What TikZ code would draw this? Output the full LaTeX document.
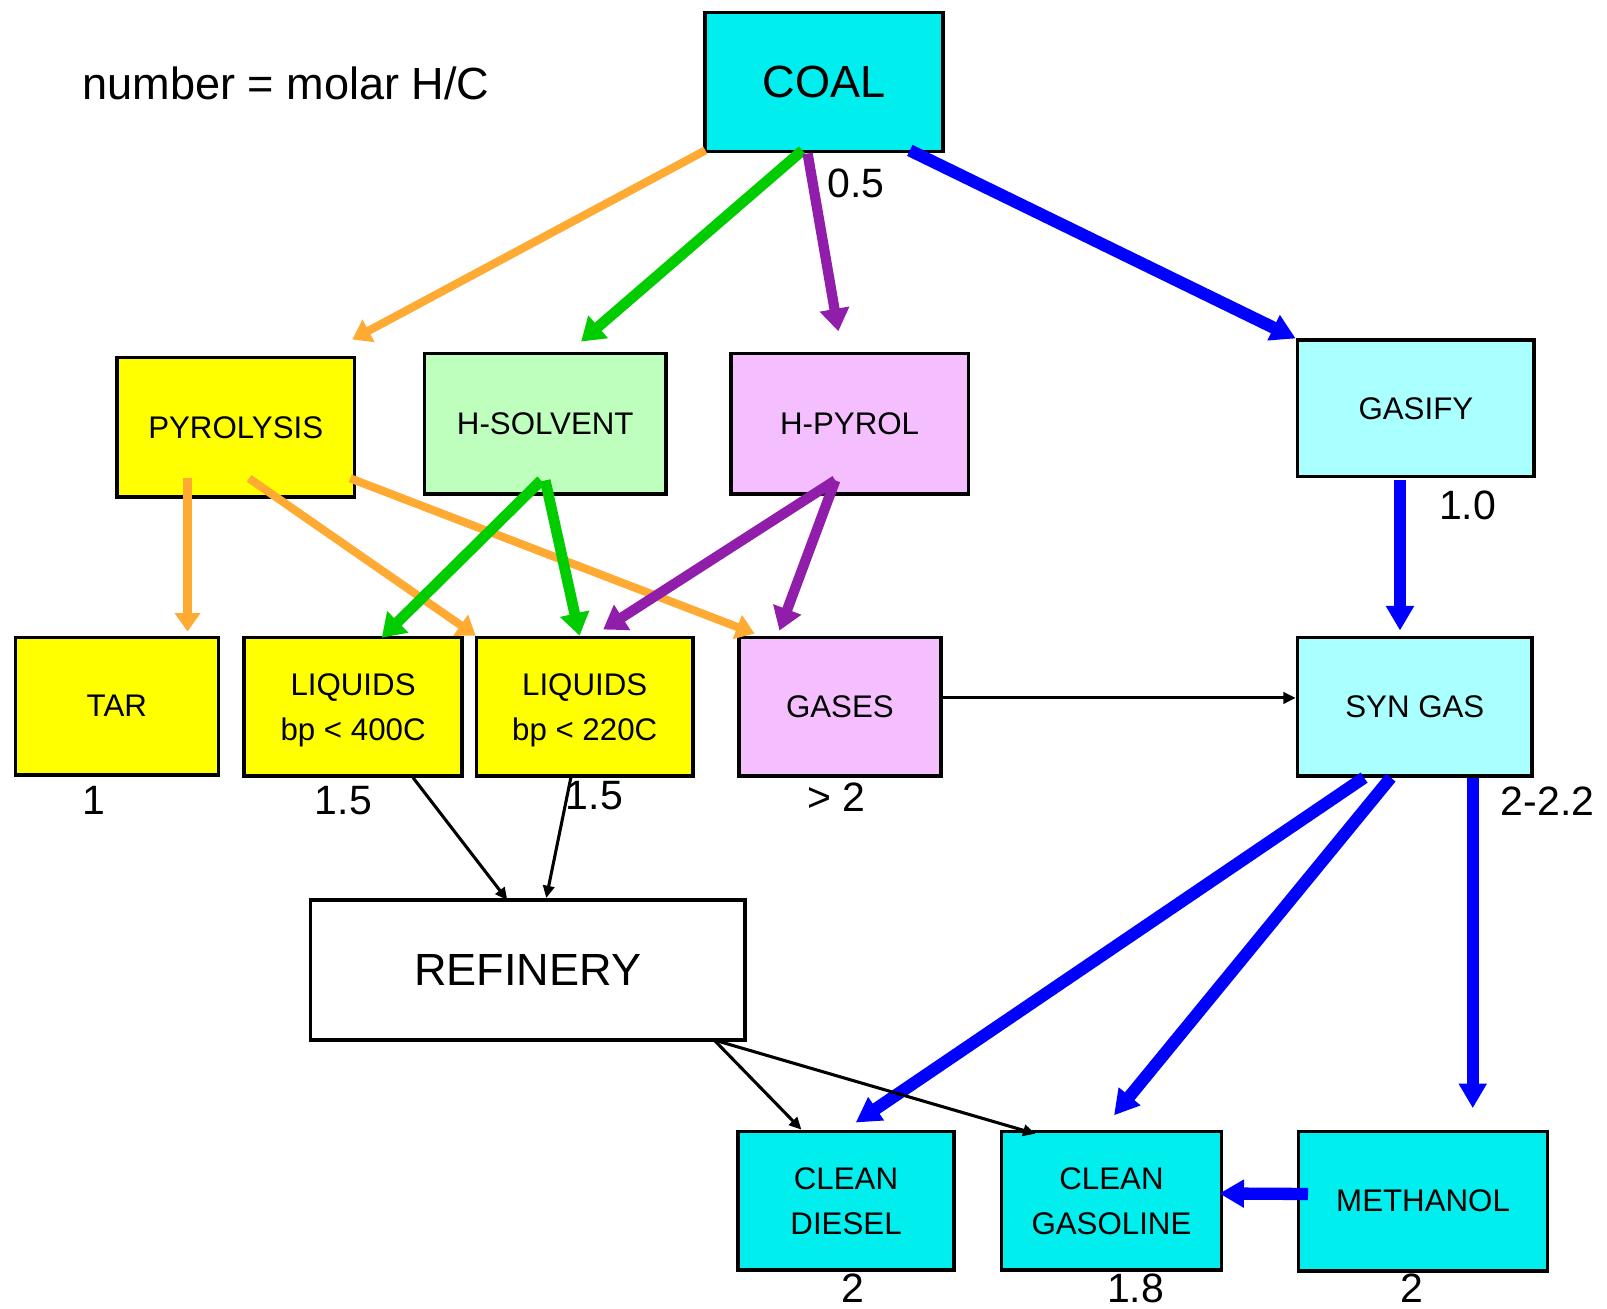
\documentclass[tikz,border=0pt]{standalone}
\usepackage{fontspec}
\setmainfont{Liberation Sans}
\usetikzlibrary{calc,arrows.meta}

\definecolor{coalcyan}{RGB}{0,238,238}
\definecolor{gascyan}{RGB}{170,255,255}
\definecolor{taryellow}{RGB}{255,255,0}
\definecolor{solvgreen}{RGB}{190,255,190}
\definecolor{pyrpink}{RGB}{245,190,255}
\definecolor{pyroorange}{RGB}{255,170,51}
\definecolor{solvline}{RGB}{0,204,0}
\definecolor{pyrline}{RGB}{145,30,170}
\definecolor{gasline}{RGB}{0,0,255}

\tikzset{
  box/.style={draw=black, line width=3.5pt, rectangle, inner sep=0pt, align=center,
    font=\fontsize{30.5}{44}\selectfont},
  twoline/.style={box, text depth=0pt},
  bigbox/.style={box, font=\fontsize{44}{48}\selectfont},
  hc/.style={font=\fontsize{40}{44}\selectfont, inner sep=0pt},
  orangearrow/.style={draw=pyroorange, line width=8pt, -{Triangle[length=18pt,width=24pt]}},
  greenarrow/.style={draw=solvline, line width=10.5pt, -{Triangle[length=22pt,width=28pt]}},
  purplearrow/.style={draw=pyrline, line width=10pt, -{Triangle[length=22pt,width=28pt]}},
  bluearrow/.style={draw=gasline, line width=12pt, -{Triangle[length=24pt,width=26pt]}},
  blackarrow/.style={draw=black, line width=3pt, -{Triangle[length=12pt,width=11pt]}}
}

\begin{document}
\begin{tikzpicture}[x=1pt, y=-1pt]
  \useasboundingbox (0,0) rectangle (1568,1277);

  %%%%% BOXES %%%%%
  \node[bigbox, fill=coalcyan, minimum width=232, minimum height=136] (coal) at (804,80) {COAL};

  \node[box, fill=taryellow, minimum width=232, minimum height=136] (pyro) at (230,417) {PYROLYSIS};
  \node[box, fill=solvgreen, minimum width=236, minimum height=137] (hsolv) at (532,413.5) {H-SOLVENT};
  \node[box, fill=pyrpink, minimum width=232, minimum height=137] (hpyrol) at (829,413.5) {H-PYROL};
  \node[box, fill=gascyan, minimum width=231, minimum height=133] (gasify) at (1381.5,398.5) {GASIFY};

  \node[box, fill=taryellow, minimum width=198, minimum height=134] (tar) at (114,689) {TAR};
  \node[twoline, fill=taryellow, minimum width=213, minimum height=135] (liqhigh) at (344.5,689.5) {LIQUIDS\\bp < 400C};
  \node[twoline, fill=taryellow, minimum width=211, minimum height=135] (liqlow) at (570.5,689.5) {LIQUIDS\\bp < 220C};
  \node[box, fill=pyrpink, minimum width=197, minimum height=135] (gases) at (819.5,689.5) {GASES};
  \node[box, fill=gascyan, minimum width=229, minimum height=135] (syngas) at (1380.5,689.5) {SYN GAS};

  \node[bigbox, fill=white, minimum width=424, minimum height=137] (refinery) at (515,946.5) {REFINERY};

  \node[twoline, fill=coalcyan, minimum width=211, minimum height=135] (diesel) at (825.5,1171.5) {CLEAN\\DIESEL};
  \node[twoline, fill=coalcyan, minimum width=215, minimum height=135] (gasoline) at (1084.5,1171.5) {CLEAN\\GASOLINE};
  \node[box, fill=coalcyan, minimum width=243, minimum height=136] (methanol) at (1388.5,1172) {METHANOL};

  %%%%% H/C VALUES %%%%%
  \node[font=\fontsize{44}{48}\selectfont, inner sep=0pt] (legend) at (279,81) {number = molar H/C};
  \node[hc] (hccoal) at (835,179) {0.5};
  \node[hc] (hcgasify) at (1432,493) {1.0};
  \node[hc] (hctar) at (92,781) {1};
  \node[hc] (hcliqhigh) at (335,781) {1.5};
  \node[hc] (hcliqlow) at (580,776) {1.5};
  \node[hc] (hcgases) at (816,778) {> 2};
  \node[hc] (hcsyngas) at (1510,782) {2-2.2};
  \node[hc] (hcdiesel) at (832,1257) {2};
  \node[hc] (hcgasoline) at (1108,1257) {1.8};
  \node[hc] (hcmethanol) at (1378,1257) {2};

  %%%%% GASIFICATION ROUTE %%%%%
  \draw[bluearrow] ($(coal.south east)+(-34,-3)$) -- (gasify.north west);
  \draw[bluearrow] ($(gasify.south)+(-15.5,2)$) -- ($(syngas.north)+(-14.5,-5)$);
  \draw[bluearrow] ($(syngas.south)+(-49.5,0)$) -- ($(diesel.north)+(9.5,-7)$);
  \draw[bluearrow] ($(syngas.south)+(-23.5,0)$) -- ($(gasoline.north)+(2.5,-14)$);
  \draw[bluearrow] ($(syngas.south)+(56.5,0)$) -- ($(methanol.north)+(48.5,-21)$);
  \draw[bluearrow] ($(methanol.west)+(11,-7)$) -- ($(gasoline.east)+(-4,-7)$);

  %%%%% PYROLYSIS ROUTE %%%%%
  \draw[orangearrow] ($(coal.south west)+(2,-3)$) -- ($(pyro.north east)+(-4,-16)$);
  \draw[orangearrow] ($(pyro.south)+(-47,-20)$) -- ($(tar.north)+(69,-4)$);
  \draw[orangearrow] ($(pyro.south)+(13,-20)$) -- ($(liqlow.north west)+(1,0)$);
  \draw[orangearrow] ($(pyro.south east)+(-6,-20)$) -- ($(gases.north west)+(17,-2)$);

  %%%%% H-SOLVENT ROUTE %%%%%
  \draw[greenarrow] ($(coal.south)+(-21,-3)$) -- ($(hsolv.north)+(35,-10)$);
  \draw[greenarrow] ($(hsolv.south)+(-4,-15)$) -- ($(liqhigh.north)+(28,2)$);
  \draw[greenarrow] ($(hsolv.south)+(0,-15)$) -- ($(liqlow.north)+(-5,0)$);

  %%%%% H-PYROL ROUTE %%%%%
  \draw[purplearrow] ($(coal.south)+(-16,0)$) -- ($(hpyrol.north)+(-11,-20)$);
  \draw[purplearrow] ($(hpyrol.south)+(-14,-15)$) -- ($(liqlow.north)+(18,-6)$);
  \draw[purplearrow] ($(hpyrol.south)+(-14,-15)$) -- ($(gases.north)+(-59,-5)$);

  %%%%% REFINING %%%%%
  \draw[blackarrow] ($(gases.east)+(0,-8.5)$) -- ($(syngas.west)+(0,-8.5)$);
  \draw[blackarrow] ($(liqhigh.south)+(58.5,0)$) -- ($(refinery.north)+(-20,2)$);
  \draw[blackarrow] ($(liqlow.south)+(-13.5,0)$) -- ($(refinery.north)+(18,0)$);
  \draw[blackarrow] ($(refinery.south east)+(-32,-2)$) -- ($(diesel.north)+(-43.5,0)$);
  \draw[blackarrow] ($(refinery.south east)+(-32,-2)$) -- ($(gasoline.north west)+(35,4)$);
\end{tikzpicture}
\end{document}
